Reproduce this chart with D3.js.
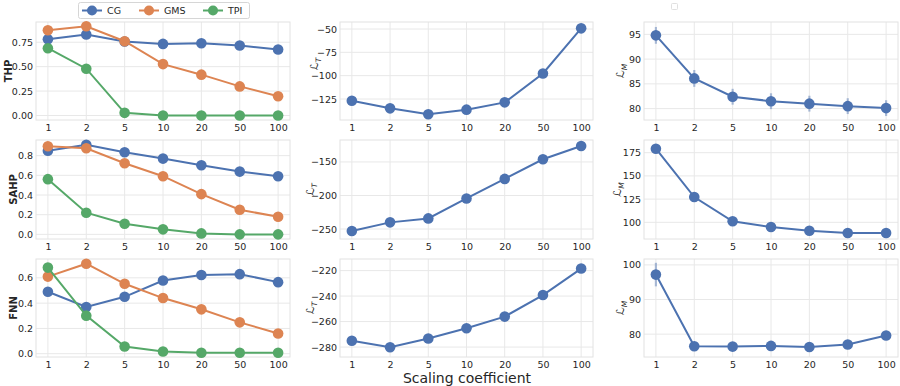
<!DOCTYPE html>
<html><head><meta charset="utf-8">
<script src="https://cdn.jsdelivr.net/npm/d3@7"></script>
<style>
body{margin:0;background:#fff;}
text{font-family:"DejaVu Sans",sans-serif;fill:#262626;}
</style></head>
<body>
<svg id="chart" width="900" height="386"></svg>
<script>
const categories = ["1","2","5","10","20","50","100"];
const methods = ["CG","GMS","TPI"];
const datasets = ["THP","SAHP","FNN"];

// Column 1: metric per method
const thpCG  = [0.78,0.83,0.757,0.733,0.74,0.716,0.675];
const thpGMS = [0.873,0.913,0.76,0.526,0.418,0.298,0.197];
const thpTPI = [0.689,0.479,0.027,0.0,0.0,0.0,0.0];
const sahpCG  = [0.85,0.911,0.834,0.77,0.703,0.638,0.591];
const sahpGMS = [0.895,0.875,0.723,0.591,0.409,0.25,0.179];
const sahpTPI = [0.561,0.22,0.108,0.051,0.01,0.0,0.0];
const fnnCG  = [0.49,0.37,0.45,0.579,0.623,0.629,0.566];
const fnnGMS = [0.61,0.712,0.553,0.44,0.351,0.248,0.16];
const fnnTPI = [0.681,0.301,0.057,0.018,0.008,0.008,0.008];

// Column 2: L_T
const thpLT  = [-126.8,-135.0,-141.4,-136.4,-128.6,-97.7,-49.3];
const sahpLT = [-253.0,-240.1,-234.2,-204.5,-175.3,-146.0,-126.2];
const fnnLT  = [-275.0,-280.2,-273.3,-265.2,-256.1,-239.2,-218.4];
const thpLTerr  = [1.5,1.5,1.5,1.5,1.5,1.5,1.5];
const sahpLTerr = [1.5,1.5,1.5,1.5,1.5,1.5,1.5];
const fnnLTerr  = [1.5,1.5,1.5,1.5,1.5,1.5,1.5];

// Column 3: L_M
const thpLM  = [94.8,86.1,82.4,81.5,81.0,80.5,80.1];
const sahpLM = [179.3,127.2,101.1,94.9,90.9,88.4,88.4];
const fnnLM  = [97.2,76.5,76.4,76.6,76.3,77.0,79.6];
const thpLMerr  = [1.7,1.7,1.6,1.6,1.6,1.6,1.6];
const sahpLMerr = [1.0,1.0,1.0,1.0,1.0,1.0,1.0];
const fnnLMerr  = [3.4,1.2,1.2,1.2,1.3,1.3,1.3];

// Y axis limits and ticks
const yLims = [
  [[-0.046,0.957],[-147.5,-42.5],[77.7,97.5]],
  [[-0.047,0.959],[-264.9,-117.3],[82,188.7]],
  [[-0.026,0.749],[-287.8,-210.9],[73.4,101.7]]
];
const yTicks = [
  [[0,0.25,0.5,0.75],[-125,-100,-75,-50],[80,85,90,95]],
  [[0,0.2,0.4,0.6,0.8],[-250,-200,-150],[100,125,150,175]],
  [[0,0.2,0.4,0.6],[-280,-260,-240,-220],[80,90,100]]
];
const yFormats = [
  [".2f","d","d"],[".1f","d","d"],[".1f","d","d"]
];

const colors = {CG:"#4c72b0",GMS:"#dd8452",TPI:"#55a868"};

const col1 = [[thpCG,thpGMS,thpTPI],[sahpCG,sahpGMS,sahpTPI],[fnnCG,fnnGMS,fnnTPI]];
const col2 = [[thpLT,thpLTerr],[sahpLT,sahpLTerr],[fnnLT,fnnLTerr]];
const col3 = [[thpLM,thpLMerr],[sahpLM,sahpLMerr],[fnnLM,fnnLMerr]];

const colX = [[36,290],[340,593],[644,898]];
const rowY = [[22,120],[140,239],[259,357]];
const labelX = [[12,318,624],[16.5,314,621],[16.5,314,624]];
const labelDY = [[0,-7,0],[0,0,0],[0,0,0]];

const svg = d3.select("#chart");
const fmtMinus = s => s.replace("-","\u2212");
const FS = 9.5;

function panel(r,c){
  const [x0,x1] = colX[c], [y0,y1] = rowY[r];
  const x = d3.scalePoint().domain(categories).range([x0,x1]).padding(0.31);
  const y = d3.scaleLinear().domain(yLims[r][c]).range([y1,y0]);
  const g = svg.append("g");
  g.selectAll(".vg").data(categories).join("line")
    .attr("x1",d=>x(d)).attr("x2",d=>x(d)).attr("y1",y0).attr("y2",y1)
    .attr("stroke","#e8e8e8").attr("stroke-width",1);
  g.selectAll(".hg").data(yTicks[r][c]).join("line")
    .attr("x1",x0).attr("x2",x1).attr("y1",d=>y(d)).attr("y2",d=>y(d))
    .attr("stroke","#e8e8e8").attr("stroke-width",1);
  g.append("rect").attr("x",x0).attr("y",y0).attr("width",x1-x0).attr("height",y1-y0)
    .attr("fill","none").attr("stroke","#e2e2e2").attr("stroke-width",1);
  const xa = g.append("g").attr("transform",`translate(0,${y1})`)
    .call(d3.axisBottom(x).tickSize(0).tickPadding(4));
  xa.select(".domain").remove();
  xa.selectAll("text").attr("font-size",FS).attr("font-family","DejaVu Sans").attr("fill","#262626");
  const fmt = d3.format(yFormats[r][c]);
  const ya = g.append("g").attr("transform",`translate(${x0},0)`)
    .call(d3.axisLeft(y).tickValues(yTicks[r][c]).tickSize(0).tickPadding(3).tickFormat(d=>fmtMinus(fmt(d))));
  ya.select(".domain").remove();
  ya.selectAll("text").attr("font-size",FS).attr("font-family","DejaVu Sans").attr("fill","#262626");
  return {g,x,y,x0,y0,y1};
}

function series(p, vals, color, errs){
  const line = d3.line().x((d,i)=>p.x(categories[i])).y(d=>p.y(d));
  if(errs){
    p.g.selectAll(null).data(vals).join("line")
      .attr("x1",(d,i)=>p.x(categories[i])).attr("x2",(d,i)=>p.x(categories[i]))
      .attr("y1",(d,i)=>p.y(d-errs[i])).attr("y2",(d,i)=>p.y(d+errs[i]))
      .attr("stroke",color).attr("stroke-opacity",0.45).attr("stroke-width",2.2);
  }
  p.g.append("path").datum(vals).attr("d",line).attr("fill","none")
    .attr("stroke",color).attr("stroke-width",2);
  p.g.selectAll(null).data(vals).join("circle")
    .attr("cx",(d,i)=>p.x(categories[i])).attr("cy",d=>p.y(d)).attr("r",5.3)
    .attr("fill",color);
}

function mathLabel(p, xpos, dy, sub){
  const t = p.g.append("text").attr("transform",`translate(${xpos},${(p.y0+p.y1)/2+dy}) rotate(-90)`)
    .attr("text-anchor","middle").attr("font-size",11);
  t.append("tspan").attr("font-style","italic").text("\u2112");
  t.append("tspan").attr("font-size",7.5).attr("font-style","italic").attr("dy",2.5).text(sub);
}

for(let r=0;r<3;r++){
  const p1 = panel(r,0);
  methods.forEach((m,k)=>series(p1,col1[r][k],colors[m]));
  p1.g.append("text").attr("transform",`translate(${labelX[r][0]},${(p1.y0+p1.y1)/2}) rotate(-90)`)
    .attr("text-anchor","middle").attr("font-size",10).attr("font-weight","bold").text(datasets[r]);

  const p2 = panel(r,1);
  series(p2,col2[r][0],colors.CG,col2[r][1]);
  mathLabel(p2,labelX[r][1],labelDY[r][1],"T");

  const p3 = panel(r,2);
  series(p3,col3[r][0],colors.CG,col3[r][1]);
  mathLabel(p3,labelX[r][2],labelDY[r][2],"M");
}

// x label
svg.append("text").attr("x",467).attr("y",383).attr("text-anchor","middle")
  .attr("font-size",14).text("Scaling coefficient");

// legend
const lg = svg.append("g");
lg.append("rect").attr("x",78.5).attr("y",2.5).attr("width",171).attr("height",16).attr("rx",2)
  .attr("fill","#fff").attr("stroke","#d6d6d6");
const legX = [82,139,203];
methods.forEach((m,k)=>{
  lg.append("line").attr("x1",legX[k]).attr("x2",legX[k]+20).attr("y1",10.5).attr("y2",10.5)
    .attr("stroke",colors[m]).attr("stroke-width",2);
  lg.append("circle").attr("cx",legX[k]+10).attr("cy",10.5).attr("r",5).attr("fill",colors[m]);
  lg.append("text").attr("x",legX[k]+25).attr("y",14).attr("font-size",FS).text(m);
});
svg.append("rect").attr("x",671.5).attr("y",3.5).attr("width",6).attr("height",6).attr("rx",1)
  .attr("fill","#fff").attr("stroke","#e0e0e0");
</script>
</body></html>
